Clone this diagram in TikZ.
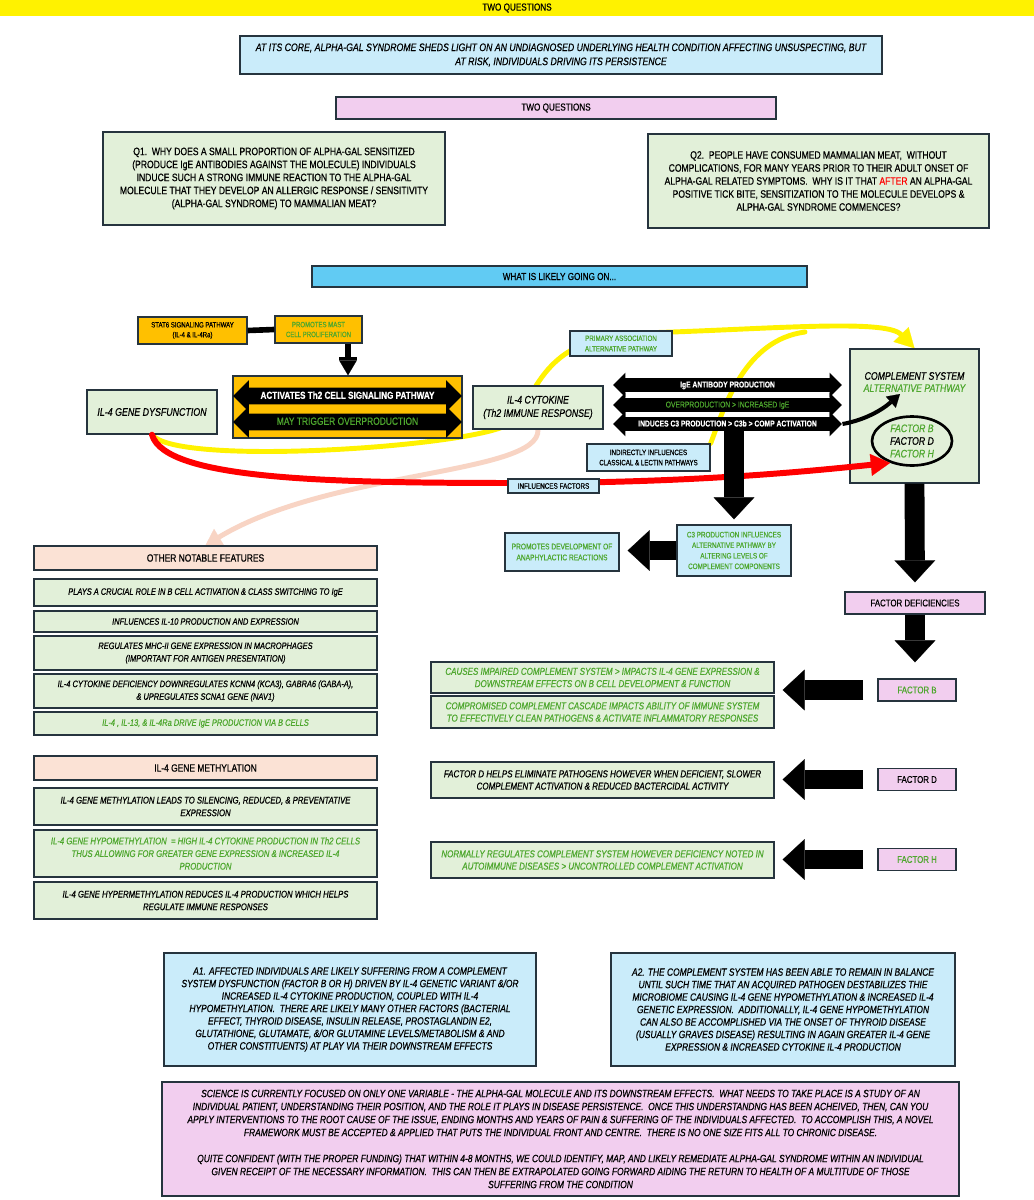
\documentclass[tikz,border=0pt]{standalone}
\usepackage{fontspec}
\setmainfont[FakeStretch=0.8, FakeBold=0.6]{Liberation Sans}
\usepackage{tikz}
\usetikzlibrary{arrows.meta, shapes.arrows, shapes.geometric}
\pgfdeclarelayer{background}
\pgfsetlayers{background,main}

\definecolor{edge}{RGB}{38,52,62}
\definecolor{boxgreen}{RGB}{226,240,217}
\definecolor{boxblue}{RGB}{202,236,250}
\definecolor{boxpink}{RGB}{242,206,239}
\definecolor{boxpeach}{RGB}{251,226,213}
\definecolor{boxorange}{RGB}{255,192,0}
\definecolor{boxsky}{RGB}{97,203,243}
\definecolor{txtgreen}{RGB}{78,167,46}
\definecolor{curvepeach}{RGB}{248,212,196}
\newcommand{\fsz}[2]{\fontsize{#1}{#2}\selectfont}
\newcommand{\grn}[1]{\textcolor{txtgreen}{#1}}

\begin{document}
\begin{tikzpicture}[x=0.02cm, y=-0.02cm,
  box/.style={draw=edge, line width=0.8pt, align=center, inner sep=1pt, font=\fsz{5.5}{7}},
  gbox/.style={box, fill=boxgreen},
  bbox/.style={box, fill=boxblue},
  pbox/.style={box, fill=boxpink},
  obox/.style={box, fill=boxpeach},
  ybox/.style={box, fill=boxorange},
  dblarr/.style={double arrow, fill=black, inner xsep=0pt, minimum height=4.58cm, double arrow tip angle=90},
  fat/.style={line width=11.3pt, -{Triangle[length=12.5pt, width=23.2pt, line width=0.1pt]}},
  curve/.style={line width=2.8pt, line cap=round},
]
\useasboundingbox (0,0) rectangle (1034,1200);

% top
\node[fill=yellow, minimum width=20.68cm, minimum height=0.32cm, inner sep=0pt, font=\fsz{5.8}{7}] (banner) at (517,8) {TWO QUESTIONS};
\node[bbox, minimum width=12.84cm, minimum height=0.76cm, font=\itshape\fsz{6.2}{8}] (core) at (561,55) {AT ITS CORE, ALPHA-GAL SYNDROME SHEDS LIGHT ON AN UNDIAGNOSED UNDERLYING HEALTH CONDITION AFFECTING UNSUSPECTING, BUT\\AT RISK, INDIVIDUALS DRIVING ITS PERSISTENCE};
\node[pbox, minimum width=8.8cm, minimum height=0.44cm, font=\fsz{5.8}{7}] (twoq) at (556,108) {TWO QUESTIONS};
\node[gbox, minimum width=6.84cm, minimum height=1.86cm, font=\fsz{6.1}{7.4}] (q1) at (274,178.5) {Q1.\ \ WHY DOES A SMALL PROPORTION OF ALPHA-GAL SENSITIZED\\(PRODUCE IgE ANTIBODIES AGAINST THE MOLECULE) INDIVIDUALS\\INDUCE SUCH A STRONG IMMUNE REACTION TO THE ALPHA-GAL\\MOLECULE THAT THEY DEVELOP AN ALLERGIC RESPONSE / SENSITIVITY\\(ALPHA-GAL SYNDROME) TO MAMMALIAN MEAT?};
\node[gbox, minimum width=6.82cm, minimum height=1.88cm, font=\fsz{6.1}{7.4}] (q2) at (818.5,181) {Q2.\ \ PEOPLE HAVE CONSUMED MAMMALIAN MEAT,\ \ WITHOUT\\COMPLICATIONS, FOR MANY YEARS PRIOR TO THEIR ADULT ONSET OF\\ALPHA-GAL RELATED SYMPTOMS.\ \ WHY IS IT THAT \textcolor{red}{AFTER} AN ALPHA-GAL\\POSITIVE TICK BITE, SENSITIZATION TO THE MOLECULE DEVELOPS \&\\ALPHA-GAL SYNDROME COMMENCES?};
\node[box, fill=boxsky, minimum width=9.9cm, minimum height=0.42cm, font=\fsz{5.8}{7}] (what) at (559.5,276.5) {WHAT IS LIKELY GOING ON...};

% pathway
\node[ybox, minimum width=2.18cm, minimum height=0.54cm, font=\fsz{4.3}{5.6}] (stat6) at (192.5,330.5) {STAT6 SIGNALING PATHWAY\\(IL-4 \& IL-4Ra)};
\node[ybox, minimum width=1.74cm, minimum height=0.54cm, text=txtgreen, font=\fsz{4.3}{5.6}] (mast) at (318.5,329.5) {PROMOTES MAST\\CELL PROLIFERATION};
\node[ybox, minimum width=4.58cm, minimum height=1.24cm] (th2box) at (347.5,407) {};
\node[dblarr, text height=4.6pt, text depth=1.4pt, inner ysep=1.5pt, double arrow head extend=4.3pt, text=white, font=\bfseries\fsz{5.8}{7}] (th2a) at (347.5,396) {ACTIVATES Th2 CELL SIGNALING PATHWAY};
\node[dblarr, text height=4.6pt, text depth=1.4pt, inner ysep=1.5pt, double arrow head extend=4.3pt, text=txtgreen, font=\fsz{6}{7}] (th2b) at (347.5,422) {MAY TRIGGER OVERPRODUCTION};
\node[gbox, minimum width=2.6cm, minimum height=0.88cm, font=\itshape\fsz{6.3}{7.5}] (gene) at (152,412) {IL-4 GENE DYSFUNCTION};
\node[gbox, minimum width=2.6cm, minimum height=0.86cm, font=\itshape\fsz{6.2}{7.6}] (cyto) at (538,407.5) {IL-4 CYTOKINE\\(Th2 IMMUNE RESPONSE)};
\node[bbox, minimum width=2.04cm, minimum height=0.5cm, text=txtgreen, font=\fsz{4.4}{6}] (primary) at (621,343.5) {PRIMARY ASSOCIATION\\ALTERNATIVE PATHWAY};
\node[dblarr, text height=3.8pt, text depth=1pt, inner ysep=1.3pt, double arrow head extend=3.1pt, text=white, font=\bfseries\fsz{4.8}{6}] (ige) at (727.5,385) {IgE ANTIBODY PRODUCTION};
\node[dblarr, text height=3.8pt, text depth=1pt, inner ysep=1.3pt, double arrow head extend=3.1pt, text=txtgreen, font=\fsz{4.8}{6}] (over) at (727.5,405) {OVERPRODUCTION > INCREASED IgE};
\node[dblarr, text height=3.8pt, text depth=1pt, inner ysep=1.3pt, double arrow head extend=3.1pt, text=white, font=\bfseries\fsz{4.8}{6}] (induce) at (727.5,424) {INDUCES C3 PRODUCTION > C3b > COMP ACTIVATION};
\node[gbox, minimum width=2.58cm, minimum height=2.68cm] (comp) at (914.5,416) {};
\node[align=center, font=\itshape\fsz{6.2}{6.9}] (comptitle) at (914.5,382) {COMPLEMENT SYSTEM\\\grn{ALTERNATIVE PATHWAY}};
\node[ellipse, draw=black, line width=1.5pt, minimum width=1.6cm, minimum height=0.98cm, inner sep=0pt, align=center, font=\itshape\fsz{6.2}{7.2}] (factors) at (912,441) {\grn{FACTOR B}\\FACTOR D\\\grn{FACTOR H}};
\node[bbox, minimum width=2.46cm, minimum height=0.54cm, font=\fsz{4.4}{5.8}] (indirect) at (648.5,457.5) {INDIRECTLY INFLUENCES\\CLASSICAL \& LECTIN PATHWAYS};
\node[bbox, minimum width=2.28cm, minimum height=1.02cm, text=txtgreen, font=\fsz{4.5}{6}] (c3) at (734,550.5) {C3 PRODUCTION INFLUENCES\\ALTERNATIVE PATHWAY BY\\ALTERING LEVELS OF\\COMPLEMENT COMPONENTS};
\node[bbox, minimum width=2.28cm, minimum height=0.76cm, text=txtgreen, font=\fsz{4.7}{6.2}] (anaph) at (562,552) {PROMOTES DEVELOPMENT OF\\ANAPHYLACTIC REACTIONS};
\coordinate (yjoin) at (805,332);
\coordinate (ctip) at (900,394);

% factors
\node[pbox, minimum width=2.8cm, minimum height=0.44cm, font=\fsz{5.6}{7}] (defic) at (915,603) {FACTOR DEFICIENCIES};
\node[pbox, minimum width=1.56cm, minimum height=0.44cm, text=txtgreen, font=\fsz{5.6}{7}] (facb) at (917,690) {FACTOR B};
\node[pbox, minimum width=1.56cm, minimum height=0.44cm, font=\fsz{5.6}{7}] (facd) at (917,779.5) {FACTOR D};
\node[pbox, minimum width=1.56cm, minimum height=0.44cm, text=txtgreen, font=\fsz{5.6}{7}] (fach) at (917,859.5) {FACTOR H};
\node[gbox, minimum width=6.86cm, minimum height=0.62cm, text=txtgreen, font=\itshape\fsz{5.7}{7}] (causes) at (602.5,677.5) {CAUSES IMPAIRED COMPLEMENT SYSTEM > IMPACTS IL-4 GENE EXPRESSION \&\\DOWNSTREAM EFFECTS ON B CELL DEVELOPMENT \& FUNCTION};
\node[gbox, minimum width=6.86cm, minimum height=0.64cm, text=txtgreen, font=\itshape\fsz{5.7}{7}] (compr) at (602.5,712) {COMPROMISED COMPLEMENT CASCADE IMPACTS ABILITY OF IMMUNE SYSTEM\\TO EFFECTIVELY CLEAN PATHOGENS \& ACTIVATE INFLAMMATORY RESPONSES};
\node[gbox, minimum width=6.86cm, minimum height=0.72cm, font=\itshape\fsz{5.7}{7}] (dhelps) at (602.5,780) {FACTOR D HELPS ELIMINATE PATHOGENS HOWEVER WHEN DEFICIENT, SLOWER\\COMPLEMENT ACTIVATION \& REDUCED BACTERCIDAL ACTIVITY};
\node[gbox, minimum width=6.86cm, minimum height=0.72cm, text=txtgreen, font=\itshape\fsz{5.7}{7}] (normally) at (602.5,860) {NORMALLY REGULATES COMPLEMENT SYSTEM HOWEVER DEFICIENCY NOTED IN\\AUTOIMMUNE DISEASES > UNCONTROLLED COMPLEMENT ACTIVATION};

% left column
\node[obox, minimum width=6.86cm, minimum height=0.48cm, font=\fsz{6}{7}] (other) at (205.5,558) {OTHER NOTABLE FEATURES};
\node[gbox, minimum width=6.86cm, minimum height=0.54cm, font=\itshape\fsz{5.3}{7.2}] (f1) at (205.5,592.5) {PLAYS A CRUCIAL ROLE IN B CELL ACTIVATION \& CLASS SWITCHING TO IgE};
\node[gbox, minimum width=6.86cm, minimum height=0.42cm, font=\itshape\fsz{5.3}{7.2}] (f2) at (205.5,621.5) {INFLUENCES IL-10 PRODUCTION AND EXPRESSION};
\node[gbox, minimum width=6.86cm, minimum height=0.68cm, font=\itshape\fsz{5.3}{7.2}] (f3) at (205.5,653) {REGULATES MHC-II GENE EXPRESSION IN MACROPHAGES\\(IMPORTANT FOR ANTIGEN PRESENTATION)};
\node[gbox, minimum width=6.86cm, minimum height=0.68cm, font=\itshape\fsz{5.3}{7.2}] (f4) at (205.5,691) {IL-4 CYTOKINE DEFICIENCY DOWNREGULATES KCNN4 (KCA3), GABRA6 (GABA-A),\\\& UPREGULATES SCNA1 GENE (NAV1)};
\node[gbox, minimum width=6.86cm, minimum height=0.46cm, text=txtgreen, font=\itshape\fsz{5.3}{7.2}] (f5) at (205.5,723.5) {IL-4 , IL-13, \& IL-4Ra DRIVE IgE PRODUCTION VIA B CELLS};
\node[obox, minimum width=6.86cm, minimum height=0.48cm, font=\fsz{6}{7}] (meth) at (205.5,768) {IL-4 GENE METHYLATION};
\node[gbox, minimum width=6.86cm, minimum height=0.74cm, font=\itshape\fsz{5.5}{7.2}] (m1) at (205.5,806.5) {IL-4 GENE METHYLATION LEADS TO SILENCING, REDUCED, \& PREVENTATIVE\\EXPRESSION};
\node[gbox, minimum width=6.86cm, minimum height=0.94cm, text=txtgreen, font=\itshape\fsz{5.5}{7.2}] (m2) at (205.5,853.5) {IL-4 GENE HYPOMETHYLATION\ \ = HIGH IL-4 CYTOKINE PRODUCTION IN Th2 CELLS\\THUS ALLOWING FOR GREATER GENE EXPRESSION \& INCREASED IL-4\\PRODUCTION};
\node[gbox, minimum width=6.86cm, minimum height=0.74cm, font=\itshape\fsz{5.5}{7.2}] (m3) at (205.5,900.5) {IL-4 GENE HYPERMETHYLATION REDUCES IL-4 PRODUCTION WHICH HELPS\\REGULATE IMMUNE RESPONSES};

% answers
\node[bbox, minimum width=7.44cm, minimum height=2.26cm, font=\itshape\fsz{6}{7.1}] (a1) at (350,1009.5) {A1. AFFECTED INDIVIDUALS ARE LIKELY SUFFERING FROM A COMPLEMENT\\SYSTEM DYSFUNCTION (FACTOR B OR H) DRIVEN BY IL-4 GENETIC VARIANT \&/OR\\INCREASED IL-4 CYTOKINE PRODUCTION, COUPLED WITH IL-4\\HYPOMETHYLATION.\ \ THERE ARE LIKELY MANY OTHER FACTORS (BACTERIAL\\EFFECT, THYROID DISEASE, INSULIN RELEASE, PROSTAGLANDIN E2,\\GLUTATHIONE, GLUTAMATE, \&/OR GLUTAMINE LEVELS/METABOLISM \& AND\\OTHER CONSTITUENTS) AT PLAY VIA THEIR DOWNSTREAM EFFECTS};
\node[bbox, minimum width=6.88cm, minimum height=2.26cm, font=\itshape\fsz{6}{7.1}] (a2) at (783,1009.5) {A2. THE COMPLEMENT SYSTEM HAS BEEN ABLE TO REMAIN IN BALANCE\\UNTIL SUCH TIME THAT AN ACQUIRED PATHOGEN DESTABILIZES THIE\\MICROBIOME CAUSING IL-4 GENE HYPOMETHYLATION \& INCREASED IL-4\\GENETIC EXPRESSION.\ \ ADDITIONALLY, IL-4 GENE HYPOMETHYLATION\\CAN ALSO BE ACCOMPLISHED VIA THE ONSET OF THYROID DISEASE\\(USUALLY GRAVES DISEASE) RESULTING IN AGAIN GREATER IL-4 GENE\\EXPRESSION \& INCREASED CYTOKINE IL-4 PRODUCTION};
\node[pbox, minimum width=15.94cm, minimum height=2.28cm, font=\itshape\fsz{6}{7.4}] (final) at (560.5,1139) {SCIENCE IS CURRENTLY FOCUSED ON ONLY ONE VARIABLE - THE ALPHA-GAL MOLECULE AND ITS DOWNSTREAM EFFECTS.\ \ WHAT NEEDS TO TAKE PLACE IS A STUDY OF AN\\INDIVIDUAL PATIENT, UNDERSTANDING THEIR POSITION, AND THE ROLE IT PLAYS IN DISEASE PERSISTENCE.\ \ ONCE THIS UNDERSTANDNG HAS BEEN ACHEIVED, THEN, CAN YOU\\APPLY INTERVENTIONS TO THE ROOT CAUSE OF THE ISSUE, ENDING MONTHS AND YEARS OF PAIN \& SUFFERING OF THE INDIVIDUALS AFFECTED.\ \ TO ACCOMPLISH THIS, A NOVEL\\FRAMEWORK MUST BE ACCEPTED \& APPLIED THAT PUTS THE INDIVIDUAL FRONT AND CENTRE.\ \ THERE IS NO ONE SIZE FITS ALL TO CHRONIC DISEASE.\\[7.4pt]QUITE CONFIDENT (WITH THE PROPER FUNDING) THAT WITHIN 4-8 MONTHS, WE COULD IDENTIFY, MAP, AND LIKELY REMEDIATE ALPHA-GAL SYNDROME WITHIN AN INDIVIDUAL\\GIVEN RECEIPT OF THE NECESSARY INFORMATION.\ \ THIS CAN THEN BE EXTRAPOLATED GOING FORWARD AIDING THE RETURN TO HEALTH OF A MULTITUDE OF THOSE\\SUFFERING FROM THE CONDITION};

% curves behind the boxes
\begin{pgfonlayer}{background}
\fill[white] (0,0) rectangle (1034,1200);
\draw[curve, yellow, -{Triangle[length=11pt, width=12pt, line width=0.1pt]}] (gene.south) .. controls (175,465) and (440,449) .. (500,428) .. controls (540,414) and (525,338) .. (640,333) .. controls (760,330) and (885,318) .. (comp.north);
\draw[curve, yellow] (indirect.north east) .. controls (725,405) and (745,340) .. (yjoin);
\draw[curve, curvepeach, -{Triangle[length=9pt, width=11pt, line width=0.1pt]}] (cyto.south) .. controls (540,475) and (330,470) .. (other.north);
\end{pgfonlayer}

% red one runs over the complement box, under the label
\draw[curve, red, line width=3.4pt, -{Triangle[length=11pt, width=12.5pt, line width=0.1pt]}] (gene.south) .. controls (165,480) and (330,483) .. (520,483) .. controls (700,483) and (820,470) .. (factors.225);
\node[bbox, minimum width=1.82cm, minimum height=0.28cm, inner sep=0.5pt, font=\fsz{4.5}{5.5}] (infl) at (553.5,486) {INFLUENCES FACTORS};

% block arrows
\draw[line width=3.2pt] (stat6.east) -- (mast.west);
\coordinate (mastdrop) at ([xshift=0.59cm]mast.south);
\draw[line width=3.4pt, -{Bar[width=10pt, line width=1.7pt] Triangle[length=8.5pt, width=10pt, line width=0.1pt]}] (mastdrop) -- (mastdrop |- th2box.north);
\draw[line width=2.3pt, -{Triangle[length=7pt, width=8.5pt, line width=0.1pt]}] (induce.east) .. controls (865,420) and (882,410) .. (ctip);
\draw[fat, shorten >=0.1cm] (c3.north |- induce.south) -- (c3.north);
\draw[fat, shorten >=0.16cm] (c3.west) -- (c3.west -| anaph.east);
\draw[fat, shorten >=0.18cm] (comp.south) -- (defic.north);
\draw[fat, shorten >=0.32cm] (defic.south) -- (defic.south |- facb.north);
\draw[fat, shorten <=0.28cm, shorten >=0.16cm] (facb.west) -- (facb.west -| causes.east);
\draw[fat, shorten <=0.28cm, shorten >=0.16cm] (facd.west) -- (facd.west -| dhelps.east);
\draw[fat, shorten <=0.28cm, shorten >=0.16cm] (fach.west) -- (fach.west -| normally.east);
\end{tikzpicture}
\end{document}
